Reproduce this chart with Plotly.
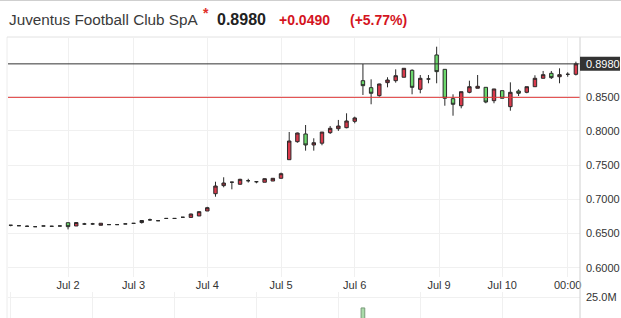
import plotly.graph_objects as go

# ---------------- data ----------------
opens = [0.662, 0.6614, 0.6605, 0.660, 0.661, 0.6605, 0.661, 0.6658, 0.661, 0.6639,
         0.664, 0.662, 0.663, 0.663, 0.664, 0.6648, 0.666, 0.670, 0.6687, 0.672,
         0.672, 0.6737, 0.6735, 0.6756, 0.6829, 0.7082, 0.720, 0.725, 0.722, 0.7272,
         0.7257, 0.7249, 0.7267, 0.7307, 0.7579, 0.7842, 0.7955, 0.7794, 0.782, 0.7974,
         0.8032, 0.8047, 0.814, 0.8734, 0.8632, 0.8515, 0.8705, 0.8734, 0.8784, 0.8886,
         0.8608, 0.8759, 0.911, 0.890, 0.8471, 0.8368, 0.8564, 0.8623, 0.8637, 0.8442,
         0.8588, 0.8354, 0.8583, 0.8564, 0.8646, 0.8769, 0.8842, 0.8792, 0.8827, 0.8827]
highs = [0.662, 0.6614, 0.6618, 0.660, 0.661, 0.6612, 0.661, 0.6658, 0.666, 0.6655,
         0.6655, 0.665, 0.663, 0.663, 0.664, 0.6648, 0.6695, 0.6718, 0.6687, 0.672,
         0.672, 0.6737, 0.679, 0.6825, 0.689, 0.7257, 0.7322, 0.7255, 0.730, 0.730,
         0.7257, 0.7305, 0.731, 0.739, 0.7984, 0.7975, 0.8086, 0.7892, 0.7983, 0.8072,
         0.816, 0.8257, 0.8208, 0.8978, 0.8754, 0.869, 0.8784, 0.890, 0.8915, 0.890,
         0.8817, 0.8817, 0.9231, 0.890, 0.8535, 0.8573, 0.8734, 0.8817, 0.8637, 0.8613,
         0.8588, 0.871, 0.8608, 0.8646, 0.8813, 0.8876, 0.8876, 0.8915, 0.8857, 0.9012]
lows = [0.6605, 0.6614, 0.6595, 0.660, 0.661, 0.6605, 0.661, 0.656, 0.661, 0.6625,
        0.6628, 0.662, 0.663, 0.663, 0.664, 0.6648, 0.6645, 0.6685, 0.6687, 0.672,
        0.672, 0.6737, 0.6735, 0.6756, 0.6829, 0.7038, 0.7175, 0.7146, 0.7215, 0.7245,
        0.7234, 0.7249, 0.7267, 0.7307, 0.7579, 0.7827, 0.7711, 0.7711, 0.779, 0.7955,
        0.800, 0.8038, 0.8111, 0.8525, 0.8389, 0.850, 0.8637, 0.8705, 0.8784, 0.8535,
        0.855, 0.8696, 0.8696, 0.8368, 0.8222, 0.833, 0.855, 0.8623, 0.8404, 0.8404,
        0.8477, 0.8295, 0.851, 0.855, 0.8646, 0.8769, 0.8759, 0.8696, 0.8792, 0.881]
closes = [0.662, 0.6614, 0.6605, 0.660, 0.661, 0.6605, 0.661, 0.660, 0.666, 0.6639,
          0.664, 0.665, 0.663, 0.663, 0.664, 0.6648, 0.669, 0.670, 0.6687, 0.672,
          0.672, 0.6737, 0.6785, 0.6819, 0.6877, 0.7194, 0.7238, 0.725, 0.7292, 0.7272,
          0.7257, 0.7301, 0.7307, 0.7374, 0.7852, 0.7969, 0.7794, 0.7827, 0.7983, 0.8038,
          0.8071, 0.8145, 0.8189, 0.8661, 0.855, 0.8686, 0.8744, 0.8807, 0.8915, 0.8637,
          0.8769, 0.8759, 0.8866, 0.8477, 0.8389, 0.8573, 0.8646, 0.8652, 0.8422, 0.8613,
          0.8477, 0.8564, 0.855, 0.8646, 0.8769, 0.8822, 0.8778, 0.8822, 0.8827, 0.898]
# only the single visible volume bar can be read; others fall below the visible window
volume = [None] * 43 + [16.7e6] + [None] * 26

candle_index = list(range(len(opens)))

tick_positions = [7, 15, 24, 33, 42, 52.3, 60, 68]
tick_labels = ["Jul 2", "Jul 3", "Jul 4", "Jul 5", "Jul 6", "Jul 9", "Jul 10", "00:00"]

price_ticks = [0.60, 0.65, 0.70, 0.75, 0.80, 0.85]
price_tick_labels = ["0.6000", "0.6500", "0.7000", "0.7500", "0.8000", "0.8500"]

last_price = 0.898
prev_close = 0.849

title_name = "Juventus Football Club SpA"
title_price = "0.8980"
title_change = "+0.0490"
title_pct = "(+5.77%)"

# ---------------- styling ----------------
RED = "#d9394b"
GREEN = "#6cd86c"
FONT = "Arial, Liberation Sans, sans-serif"
W, H = 621, 318
ML, MR, MT, MB = 8, 41, 38, 0
PW, PH = W - ML - MR, H - MT - MB


def px_x(px):
    return (px - ML) / PW


def px_y(py):
    return (H - MB - py) / PH


fig = go.Figure()
fig.add_trace(go.Candlestick(
    x=candle_index, open=opens, high=highs, low=lows, close=closes,
    increasing=dict(line=dict(color="#2a2a2a", width=1), fillcolor=RED),
    decreasing=dict(line=dict(color="#2a2a2a", width=1), fillcolor=GREEN),
    whiskerwidth=0, showlegend=False, hoverinfo="skip",
    xaxis="x", yaxis="y",
))
fig.add_trace(go.Bar(
    x=candle_index, y=volume, width=0.45,
    marker=dict(color="#a9dba9", line=dict(color="#7a9a7a", width=1)),
    showlegend=False, hoverinfo="skip", xaxis="x2", yaxis="y2",
))

grid = "#f0f0f0"
fig.update_layout(
    width=W, height=H,
    margin=dict(l=ML, r=MR, t=MT, b=MB, pad=0),
    paper_bgcolor="white", plot_bgcolor="white",
    font=dict(family=FONT, size=11, color="#333"),
    boxgap=0.4,
    xaxis=dict(domain=[0, 1], range=[-0.33, 69.5], anchor="y",
               tickmode="array", tickvals=tick_positions, ticktext=tick_labels,
               showgrid=True, gridcolor=grid, zeroline=False, showline=False,
               ticks="", rangeslider=dict(visible=False),
               tickfont=dict(size=11, color="#333")),
    yaxis=dict(domain=[px_y(277), 1], range=[0.5864, 0.9358], side="right", anchor="x",
               tickmode="array", tickvals=price_ticks, ticktext=price_tick_labels,
               showgrid=True, gridcolor=grid, zeroline=False, showline=False, ticks="",
               ticklabelstandoff=5, tickfont=dict(size=11, color="#333")),
    xaxis2=dict(domain=[0, 1], matches="x", anchor="y2", showticklabels=False,
                showgrid=True, gridcolor=grid, zeroline=False, showline=False, ticks="",
                rangeslider=dict(visible=False)),
    yaxis2=dict(domain=[0, px_y(292)], range=[9.08e6, 28.8e6], side="right", anchor="x2",
                tickmode="array", tickvals=[25e6], ticktext=["25.0M"],
                showgrid=True, gridcolor=grid, zeroline=False, showline=False, ticks="",
                ticklabelstandoff=5, tickfont=dict(size=11, color="#333")),
)

shapes = [
    dict(type="line", xref="paper", yref="y", x0=0, x1=1, y0=last_price, y1=last_price,
         line=dict(color="#333", width=1)),
    dict(type="line", xref="paper", yref="y", x0=0, x1=1, y0=prev_close, y1=prev_close,
         line=dict(color="#e03a3a", width=1)),
    dict(type="line", xref="paper", yref="paper", x0=1, x1=1, y0=px_y(318), y1=px_y(37),
         line=dict(color="#d0d0d0", width=1)),
    dict(type="line", xref="paper", yref="paper", x0=px_x(7), x1=px_x(7), y0=px_y(318), y1=px_y(37),
         line=dict(color="#ececec", width=1)),
    dict(type="line", xref="paper", yref="paper", x0=px_x(7), x1=px_x(621), y0=px_y(37), y1=px_y(37),
         line=dict(color="#e2e2e2", width=1)),
    dict(type="line", xref="paper", yref="paper", x0=px_x(0), x1=px_x(621), y0=px_y(0.5), y1=px_y(0.5),
         line=dict(color="#cfcfcf", width=1)),
    dict(type="rect", xref="paper", yref="y", x0=1, x1=px_x(620),
         y0=last_price - 7 / 684, y1=last_price + 7 / 684,
         fillcolor="#333", line=dict(width=0)),
]
fig.update_layout(shapes=shapes)

annotations = [
    dict(x=px_x(7), y=px_y(19), xref="paper", yref="paper", xanchor="left", yanchor="middle",
         text=title_name, showarrow=False, font=dict(size=15.3, color="#3a3a3a", family=FONT)),
    dict(x=px_x(201), y=px_y(13), xref="paper", yref="paper", xanchor="left", yanchor="middle",
         text="<b>*</b>", showarrow=False, font=dict(size=14, color="#e0302a", family=FONT)),
    dict(x=px_x(215), y=px_y(19), xref="paper", yref="paper", xanchor="left", yanchor="middle",
         text="<b>" + title_price + "</b>", showarrow=False, font=dict(size=16, color="#222", family=FONT)),
    dict(x=px_x(277), y=px_y(20), xref="paper", yref="paper", xanchor="left", yanchor="middle",
         text="<b>" + title_change + "</b>", showarrow=False, font=dict(size=14, color="#d4141e", family=FONT)),
    dict(x=px_x(348), y=px_y(20), xref="paper", yref="paper", xanchor="left", yanchor="middle",
         text="<b>" + title_pct + "</b>", showarrow=False, font=dict(size=14, color="#d4141e", family=FONT)),
    dict(x=px_x(584), y=last_price, xref="paper", yref="y", xanchor="left", yanchor="middle",
         text=title_price, showarrow=False, font=dict(size=11, color="white", family=FONT)),
]
fig.update_layout(annotations=annotations)

fig.write_html("out.html")
